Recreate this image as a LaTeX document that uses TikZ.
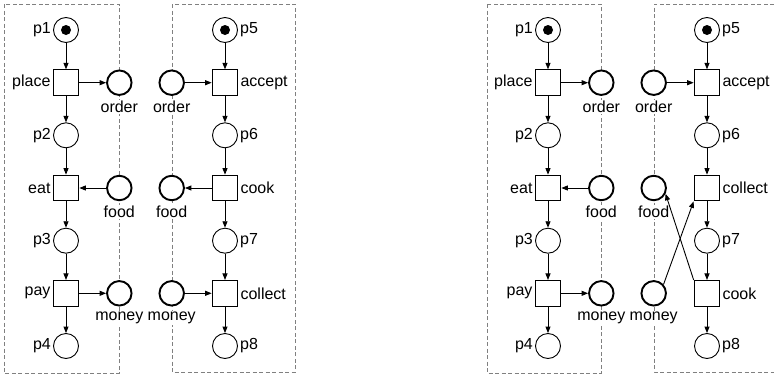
\documentclass[tikz,border=0pt]{standalone}
\usepackage{fontspec}
\setmainfont{Liberation Sans}
\usetikzlibrary{arrows.meta}
\definecolor{lanegray}{RGB}{128,128,128}
\tikzset{
  pl/.style={circle,draw,fill=white,line width=0.9pt,minimum size=25pt,inner sep=0pt},
  msg/.style={circle,draw,fill=white,line width=1.9pt,minimum size=24.5pt,inner sep=0pt},
  tr/.style={rectangle,draw,fill=white,line width=0.9pt,minimum size=25.8pt,inner sep=0pt},
  tok/.style={circle,fill=black,minimum size=10pt,inner sep=0pt},
  arc/.style={line width=0.9pt,-{Triangle[length=6.5pt,width=5pt]}},
  lane/.style={draw=lanegray,line width=0.9pt,dash pattern=on 4pt off 2.5pt},
  every label/.style={inner sep=1pt,fill=white},
  label distance=1pt,
  blab/.style={label={[label distance=4pt]below:#1}},
}
\begin{document}
\begin{tikzpicture}[x=1pt,y=-1pt,font=\fontsize{16}{19}\selectfont]
\useasboundingbox (0,0) rectangle (774,378);
% ---------- first net ----------
\draw[lane] (4,4) rectangle (119,373);
\draw[lane] (172,4) rectangle (295,372);
\node[pl,label=left:p1] (p1) at (66,30) {};
\node[tok] (t1) at (p1) {};
\node[tr,label=left:place] (place) at (66,82.7) {};
\node[pl,label=left:p2] (p2) at (66,135.3) {};
\node[tr,label=left:eat] (eat) at (66,188) {};
\node[pl,label=left:p3] (p3) at (66,240.7) {};
\node[tr,label=left:pay] (pay) at (66,293.3) {};
\node[pl,label=left:p4] (p4) at (66,346) {};
\node[msg,blab=order] (o1) at (119.3,82.7) {};
\node[msg,blab=food] (f1) at (119.3,188) {};
\node[msg,blab=money] (m1) at (119.3,293.3) {};
\node[msg,blab=order] (o2) at (171.7,82.7) {};
\node[msg,blab=food] (f2) at (171.7,188) {};
\node[msg,blab=money] (m2) at (171.7,293.3) {};
\node[pl,label=right:p5] (p5) at (225,30) {};
\node[tok] (t5) at (p5) {};
\node[tr,label=right:accept] (accept) at (225,82.7) {};
\node[pl,label=right:p6] (p6) at (225,135.3) {};
\node[tr,label=right:cook] (cook) at (225,188) {};
\node[pl,label=right:p7] (p7) at (225,240.7) {};
\node[tr,label=right:collect] (collect) at (225,293.3) {};
\node[pl,label=right:p8] (p8) at (225,346) {};
\draw[arc] (p1) -- (place);
\draw[arc] (place) -- (p2);
\draw[arc] (p2) -- (eat);
\draw[arc] (eat) -- (p3);
\draw[arc] (p3) -- (pay);
\draw[arc] (pay) -- (p4);
\draw[arc] (place) -- (o1);
\draw[arc] (f1) -- (eat);
\draw[arc] (pay) -- (m1);
\draw[arc] (o2) -- (accept);
\draw[arc] (cook) -- (f2);
\draw[arc] (m2) -- (collect);
\draw[arc] (p5) -- (accept);
\draw[arc] (accept) -- (p6);
\draw[arc] (p6) -- (cook);
\draw[arc] (cook) -- (p7);
\draw[arc] (p7) -- (collect);
\draw[arc] (collect) -- (p8);
% ---------- second net ----------
\begin{scope}[xshift=482pt]
\draw[lane] (5,4) rectangle (119,373);
\draw[lane] (292,4) -- (172,4) -- (172,372) -- (292,372);
\node[pl,label=left:p1] (bp1) at (66,30) {};
\node[tok] (bt1) at (bp1) {};
\node[tr,label=left:place] (bplace) at (66,82.7) {};
\node[pl,label=left:p2] (bp2) at (66,135.3) {};
\node[tr,label=left:eat] (beat) at (66,188) {};
\node[pl,label=left:p3] (bp3) at (66,240.7) {};
\node[tr,label=left:pay] (bpay) at (66,293.3) {};
\node[pl,label=left:p4] (bp4) at (66,346) {};
\node[msg,blab=order] (bo1) at (119.3,82.7) {};
\node[msg,blab=food] (bf1) at (119.3,188) {};
\node[msg,blab=money] (bm1) at (119.3,293.3) {};
\node[msg,blab=order] (bo2) at (171.7,82.7) {};
\node[msg,blab=food] (bf2) at (171.7,188) {};
\node[msg,blab=money] (bm2) at (171.7,293.3) {};
\node[pl,label=right:p5] (bp5) at (225,30) {};
\node[tok] (bt5) at (bp5) {};
\node[tr,label=right:accept] (baccept) at (225,82.7) {};
\node[pl,label=right:p6] (bp6) at (225,135.3) {};
\node[tr,label=right:collect] (bcollect) at (225,188) {};
\node[pl,label=right:p7] (bp7) at (225,240.7) {};
\node[tr,label=right:cook] (bcook) at (225,293.3) {};
\node[pl,label=right:p8] (bp8) at (225,346) {};
\draw[arc] (bp1) -- (bplace);
\draw[arc] (bplace) -- (bp2);
\draw[arc] (bp2) -- (beat);
\draw[arc] (beat) -- (bp3);
\draw[arc] (bp3) -- (bpay);
\draw[arc] (bpay) -- (bp4);
\draw[arc] (bplace) -- (bo1);
\draw[arc] (bf1) -- (beat);
\draw[arc] (bpay) -- (bm1);
\draw[arc] (bo2) -- (baccept);
\draw[arc] (bp5) -- (baccept);
\draw[arc] (baccept) -- (bp6);
\draw[arc] (bp6) -- (bcollect);
\draw[arc] (bcollect) -- (bp7);
\draw[arc] (bp7) -- (bcook);
\draw[arc] (bcook) -- (bp8);
\draw[arc] (bcook.north west) -- (bf2.-26);
\draw[arc] (bm2.42) -- (bcollect.south west);
\end{scope}
\end{tikzpicture}
\end{document}
